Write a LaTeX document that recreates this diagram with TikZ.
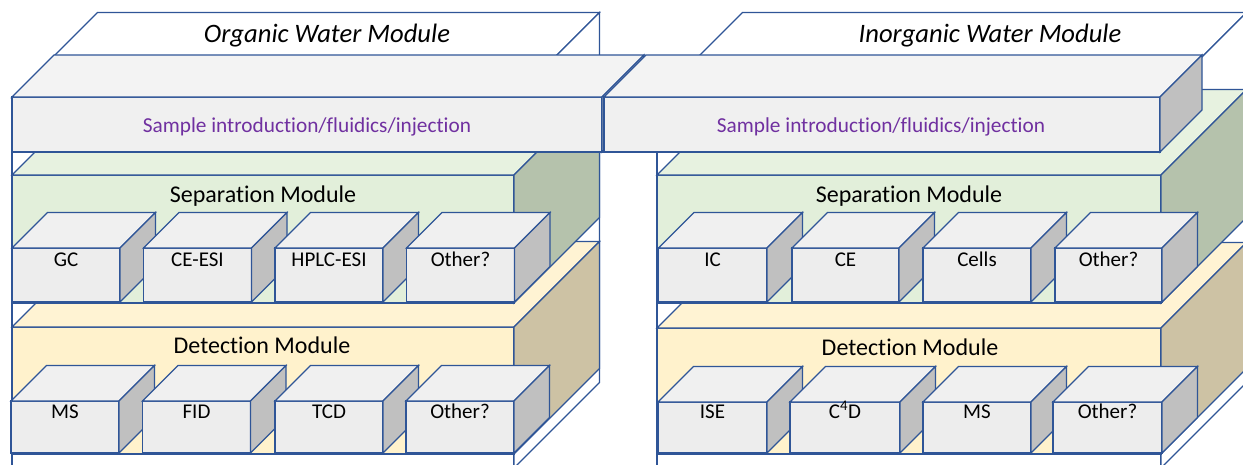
\documentclass[tikz,border=0pt]{standalone}
\usepackage{fontspec}
\setmainfont{Carlito}[Ligatures=NoCommon]

\definecolor{edgeblue}{HTML}{2F5597}
\definecolor{slabfront}{HTML}{F0F0F0}
\definecolor{slabtop}{HTML}{F3F3F3}
\definecolor{greyside}{HTML}{C0C0C0}
\definecolor{boxfront}{HTML}{EDEDED}
\definecolor{boxtop}{HTML}{F0F0F0}
\definecolor{sepfront}{HTML}{E2EFDA}
\definecolor{septop}{HTML}{E7F2E0}
\definecolor{sepside}{HTML}{B5C2AC}
\definecolor{detfront}{HTML}{FFF2CC}
\definecolor{dettop}{HTML}{FFF3D3}
\definecolor{detside}{HTML}{CDC2A4}
\definecolor{labelpurple}{HTML}{7030A0}

% Oblique cuboid: front face from (#1,#2) to (#3,#4), depth #5 drawn up and to the right,
% fills for front (#6), top (#7) and right side (#8).
\newcommand\cuboid[8]{%
  \filldraw[edge,fill=#6] (#1,#2) rectangle (#3,#4);
  \filldraw[edge,fill=#7] (#1,#2) -- ++(#5,-#5) -- ++(#3-#1,0) -- (#3,#2) -- cycle;
  \filldraw[edge,fill=#8] (#3,#2) -- ++(#5,-#5) -- ++(0,#4-#2) -- (#3,#4) -- cycle;
}
\newcommand\unitbox[4]{\cuboid{#1}{#2}{#3}{#4}{35.5}{boxfront}{boxtop}{greyside}}

\begin{document}
\begin{tikzpicture}[x=1pt,y=-1pt,
  edge/.style={draw=edgeblue,line width=1.1pt,line join=miter},
  title/.style={font=\fontsize{26.6}{31}\selectfont\itshape,anchor=base,inner sep=0pt},
  slabtext/.style={font=\fontsize{21.3}{25}\selectfont,text=labelpurple,anchor=base,inner sep=0pt},
  modtext/.style={font=\fontsize{24}{28}\selectfont,anchor=base,inner sep=0pt},
  boxtext/.style={font=\fontsize{21}{25}\selectfont,anchor=base,inner sep=0pt}]
\useasboundingbox (0,0) rectangle (1243,464);
\clip (0,0) rectangle (1243,464);

% ---------------- Organic water module ----------------
\cuboid{12}{98}{514}{468}{85.5}{white}{white}{white}
\cuboid{12}{327}{514}{454}{85.5}{detfront}{dettop}{detside}
\cuboid{12}{175}{514}{303}{85.5}{sepfront}{septop}{sepside}
\cuboid{12}{97}{602}{152}{42}{slabfront}{slabtop}{greyside}
% separation units
\unitbox{12}{248}{120}{302}
\unitbox{143.5}{248}{251.5}{302}
\unitbox{275}{248}{383}{302}
\unitbox{406.5}{248}{514.5}{302}
% detection units
\unitbox{11}{401}{119}{453}
\unitbox{142.5}{401}{250.5}{453}
\unitbox{275}{401}{383}{453}
\unitbox{406}{401}{514}{453}

% ---------------- Inorganic water module ----------------
\cuboid{657}{98}{1161}{468}{85.5}{white}{white}{white}
\cuboid{657}{328}{1161}{454}{85.5}{detfront}{dettop}{detside}
\cuboid{657}{175}{1161}{303}{85.5}{sepfront}{septop}{sepside}
\cuboid{604}{97}{1160}{152}{42}{slabfront}{slabtop}{greyside}
% separation units
\unitbox{658.5}{248}{767}{302}
\unitbox{792}{248}{899}{302}
\unitbox{923}{248}{1031}{302}
\unitbox{1055}{248}{1162}{302}
% detection units
\unitbox{658}{402}{767}{453}
\unitbox{790}{402}{900}{453}
\unitbox{923}{402}{1031}{453}
\unitbox{1053}{402}{1162}{453}

% ---------------- Labels ----------------
\node[title] (orgtitle) at (327,42) {Organic Water Module};
\node[title] (inorgtitle) at (990,42) {Inorganic Water Module};

\node[slabtext] (orgslab) at (307,132) {Sample introduction/fluidics/injection};
\node[slabtext] (inorgslab) at (881,132) {Sample introduction/fluidics/injection};

\node[modtext] (orgsep) at (263,202.5) {Separation Module};
\node[modtext] (inorgsep) at (909,202.5) {Separation Module};
\node[modtext] (orgdet) at (262,353) {Detection Module};
\node[modtext] (inorgdet) at (910,355) {Detection Module};

\node[boxtext] (gc) at (66,266) {GC};
\node[boxtext] (ceesi) at (197.5,266) {CE-ESI};
\node[boxtext] (hplc) at (329,266) {HPLC-ESI};
\node[boxtext] (orgsepother) at (460.5,266) {Other?};
\node[boxtext] (ms) at (65,418) {MS};
\node[boxtext] (fid) at (196.5,418) {FID};
\node[boxtext] (tcd) at (329,418) {TCD};
\node[boxtext] (orgdetother) at (460,418) {Other?};

\node[boxtext] (ic) at (712.5,266) {IC};
\node[boxtext] (ce) at (845.5,266) {CE};
\node[boxtext] (cells) at (977,266) {Cells};
\node[boxtext] (inorgsepother) at (1108.5,266) {Other?};
\node[boxtext] (ise) at (712.5,418) {ISE};
\node[boxtext] (c4d) at (845,418) {C\textsuperscript{4}D};
\node[boxtext] (ms2) at (977,418) {MS};
\node[boxtext] (inorgdetother) at (1107.5,418) {Other?};
\end{tikzpicture}
\end{document}
